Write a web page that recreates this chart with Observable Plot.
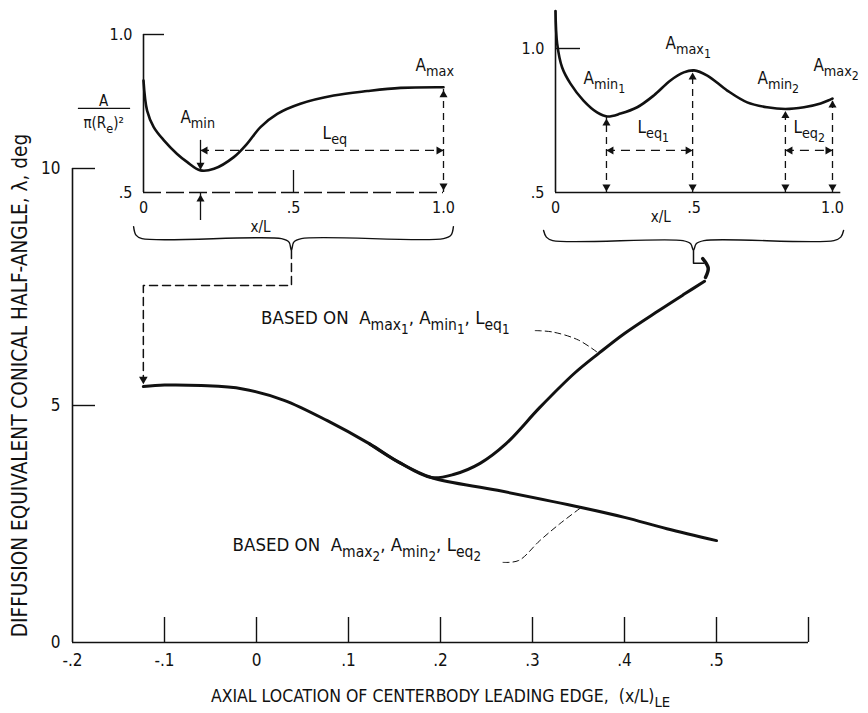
<!DOCTYPE html>
<html><head><meta charset="utf-8">
<script src="https://cdn.jsdelivr.net/npm/d3@7"></script>
<script src="https://cdn.jsdelivr.net/npm/@observablehq/plot@0.6"></script>
<style>
html,body{margin:0;padding:0;background:#fff;}
#wrap{position:relative;width:868px;height:713px;overflow:hidden;}
#wrap svg{position:absolute;left:0;top:0;}
</style></head><body><div id="wrap"></div>
<script>
// ---------------- main chart data ----------------
const xTicks = [-0.2, -0.1, 0, 0.1, 0.2, 0.3, 0.4, 0.5, 0.6];
const xTickLabels = ["-.2", "-.1", "0", ".1", ".2", ".3", ".4", ".5", ""];
const yTicks = [0, 5, 10];
const yTickLabels = ["0", "5", "10"];

// common part of the curve (before the split)
const leftX = [-0.123, -0.10, -0.06, -0.015, 0.03, 0.077, 0.123, 0.155, 0.19];
const leftY = [5.40, 5.43, 5.42, 5.35, 5.11, 4.68, 4.19, 3.80, 3.48];
// branch based on Amax1, Amin1, Leq1
const upperX = [0.19, 0.215, 0.243, 0.271, 0.308, 0.345, 0.372, 0.40, 0.437, 0.465, 0.487];
const upperY = [3.48, 3.55, 3.78, 4.19, 4.96, 5.67, 6.10, 6.52, 7.00, 7.35, 7.62];
// branch based on Amax2, Amin2, Leq2
const lowerX = [0.19, 0.262, 0.353, 0.40, 0.446, 0.50];
const lowerY = [3.48, 3.21, 2.85, 2.64, 2.40, 2.15];

const label1 = "BASED ON  A{max}[1], A{min}[1], L{eq}[1]";
const label2 = "BASED ON  A{max}[2], A{min}[2], L{eq}[2]";
const label1Pos = [0.005, 6.84];
const label2Pos = [-0.026, 2.05];
const leader1X = [0.303, 0.322, 0.35, 0.372];
const leader1Y = [6.58, 6.55, 6.38, 6.10];
const leader2X = [0.268, 0.285, 0.308, 0.33, 0.353];
const leader2Y = [1.69, 1.73, 2.15, 2.51, 2.85];

// connectors from inset braces to the main curve
const linkLX = [0.038, 0.038, -0.123, -0.123];
const linkLY = [8.27, 7.53, 7.53, 5.55];
const linkRX = [0.475, 0.475, 0.486];
const linkRY = [8.27, 8.00, 8.00];
const hookRX = [0.485, 0.491, 0.488];
const hookRY = [8.10, 7.90, 7.70];

const yTitle = "DIFFUSION EQUIVALENT CONICAL HALF-ANGLE, \u03bb, deg";
const xTitle = "AXIAL LOCATION OF CENTERBODY LEADING EDGE,  (x/L){LE}";

// ---------------- left inset data ----------------
const inLX = [0, 0.012, 0.034, 0.068, 0.112, 0.146, 0.19, 0.235, 0.301, 0.345, 0.39, 0.446, 0.523, 0.634, 0.746, 0.857, 1.0];
const inLY = [0.854, 0.759, 0.707, 0.665, 0.622, 0.596, 0.570, 0.575, 0.612, 0.654, 0.707, 0.749, 0.781, 0.807, 0.821, 0.831, 0.833];
const inLAmin = 0.19, inLAminY = 0.572, inLAmax = 1.0, inLAmaxY = 0.833, inLLeqY = 0.633;
const inLLabels = [
  {x: 0.123, y: 0.737, t: "A{min}"},
  {x: 0.597, y: 0.687, t: "L{eq}"},
  {x: 0.907, y: 0.902, t: "A{max}"}
];
const braceLX = [-0.033, -0.025, -0.005, 0.46, 0.485, 0.493, 0.501, 0.526, 1.0, 1.025, 1.033];
const braceLY = [0.392, 0.365, 0.354, 0.354, 0.343, 0.316, 0.343, 0.354, 0.354, 0.365, 0.392];

// ---------------- right inset data ----------------
const inRX = [0, 0.006, 0.024, 0.054, 0.101, 0.150, 0.187, 0.235, 0.295, 0.355, 0.415, 0.463, 0.50, 0.548, 0.62, 0.692, 0.764, 0.83, 0.897, 0.957, 1.0];
const inRY = [1.13, 1.017, 0.934, 0.878, 0.819, 0.778, 0.764, 0.774, 0.796, 0.837, 0.889, 0.917, 0.924, 0.906, 0.854, 0.813, 0.796, 0.79, 0.796, 0.809, 0.826];
const inRStationsX = [0.184, 0.495, 0.83, 1.0];
const inRStationsY = [0.764, 0.924, 0.79, 0.826];
const inRLeqY = 0.646;
const inRLabels = [
  {x: 0.101, y: 0.896, t: "A{min}[1]"},
  {x: 0.397, y: 1.017, t: "A{max}[1]"},
  {x: 0.296, y: 0.726, t: "L{eq}[1]"},
  {x: 0.729, y: 0.896, t: "A{min}[2]"},
  {x: 0.931, y: 0.941, t: "A{max}[2]"},
  {x: 0.859, y: 0.726, t: "L{eq}[2]"}
];
const braceRX = [-0.043, -0.033, -0.01, 0.46, 0.488, 0.498, 0.508, 0.536, 1.005, 1.03, 1.04];
const braceRY = [0.368, 0.345, 0.333, 0.333, 0.322, 0.299, 0.322, 0.333, 0.333, 0.345, 0.368];

const insetXTicks = [0, 0.5, 1.0];
const insetXLabels = ["0", ".5", "1.0"];
const insetYTicks = [0.5, 1.0];
const insetYLabels = [".5", "1.0"];

// ---------------- helpers ----------------
const FONT = '"Liberation Sans Narrow","DejaVu Sans Condensed","Arial Narrow","Liberation Sans",sans-serif';
const W = 868, H = 713;
const INK = "#111";
const pts = (xs, ys) => xs.map((x, i) => ({x, y: ys[i]}));
const fmt = (ticks, labels) => d => labels[ticks.indexOf(d)];

function heads(list, r = 3) {
  const off = 2 * Math.sqrt((Math.PI * r * r) / (3 * Math.sqrt(3)));
  const spec = {up: [0, 0, off], down: [180, 0, -off], left: [-90, off, 0], right: [90, -off, 0]};
  return Object.entries(spec).map(([dir, [rot, dx, dy]]) =>
    Plot.dot(list.filter(d => d.dir === dir), {x: "x", y: "y", symbol: "triangle", r, rotate: rot, dx, dy, fill: INK, stroke: "none"}));
}

function applySubs(svg) {
  svg.querySelectorAll("text").forEach(t => {
    const s = t.textContent;
    if (!/[{\[]/.test(s)) return;
    const fs = parseFloat(getComputedStyle(t).fontSize) || 15;
    t.textContent = "";
    const re = /\{([^}]*)\}|\[([^\]]*)\]|([^{\[]+)/g;
    let m, cur = 0;
    while ((m = re.exec(s))) {
      let lvl, str;
      if (m[1] !== undefined) { lvl = 1; str = m[1]; }
      else if (m[2] !== undefined) { lvl = 2; str = m[2]; }
      else { lvl = 0; str = m[3]; }
      const shift = [0, 0.32 * fs, 0.55 * fs][lvl];
      const ts = document.createElementNS("http://www.w3.org/2000/svg", "tspan");
      ts.setAttribute("dy", (shift - cur).toFixed(2));
      ts.setAttribute("font-size", [fs, 0.84 * fs, 0.72 * fs][lvl].toFixed(2));
      ts.setAttribute("style", "white-space:pre");
      ts.textContent = str;
      t.appendChild(ts);
      cur = shift;
    }
  });
}

const wrap = document.getElementById("wrap");

// ---------------- main plot ----------------
const mM = {l: 72, r: 60, t: 168, b: 71};
const xDom = [-0.2, 0.6], yDom = [0, 10];
const pxX = (xDom[1] - xDom[0]) / (W - mM.l - mM.r);
const pxY = (yDom[1] - yDom[0]) / (H - mM.t - mM.b);

const mainPlot = Plot.plot({
  width: W, height: H,
  marginLeft: mM.l, marginRight: mM.r, marginTop: mM.t, marginBottom: mM.b,
  x: {domain: xDom}, y: {domain: yDom},
  style: {fontFamily: FONT, fontSize: "15px", color: INK, background: "white", overflow: "visible"},
  marks: [
    Plot.ruleY([0], {x1: xDom[0], x2: xDom[1], stroke: INK, strokeWidth: 1.6}),
    Plot.ruleX([xDom[0]], {y1: yDom[0], y2: yDom[1], stroke: INK, strokeWidth: 1.6}),
    Plot.ruleX(xTicks.slice(1), {x: d => d, y1: 0, y2: 25 * pxY, stroke: INK, strokeWidth: 1.4}),
    Plot.ruleY(yTicks.slice(1), {y: d => d, x1: xDom[0], x2: xDom[0] + 23 * pxX, stroke: INK, strokeWidth: 1.4}),
    Plot.axisX({ticks: xTicks, tickSize: 0, tickPadding: 11, tickFormat: fmt(xTicks, xTickLabels), fontSize: 17, label: null}),
    Plot.axisY({ticks: yTicks, tickSize: 0, tickPadding: 12, tickFormat: fmt(yTicks, yTickLabels), fontSize: 17, label: null}),
    Plot.line(pts(leftX.concat(upperX.slice(1)), leftY.concat(upperY.slice(1))), {x: "x", y: "y", curve: "catmull-rom", stroke: INK, strokeWidth: 3}),
    Plot.line(pts(leftX.slice(-3).concat(lowerX.slice(1)), leftY.slice(-3).concat(lowerY.slice(1))), {x: "x", y: "y", curve: "catmull-rom", stroke: INK, strokeWidth: 3}),
    Plot.line(pts(leader1X, leader1Y), {x: "x", y: "y", curve: "catmull-rom", stroke: INK, strokeWidth: 1, strokeDasharray: "6,4"}),
    Plot.line(pts(leader2X, leader2Y), {x: "x", y: "y", curve: "catmull-rom", stroke: INK, strokeWidth: 1, strokeDasharray: "6,4"}),
    Plot.line(pts(linkLX, linkLY), {x: "x", y: "y", stroke: INK, strokeWidth: 1.5, strokeDasharray: "8,5"}),
    ...heads([{x: linkLX[3], y: leftY[0] + 0.05, dir: "down"}], 3.2),
    Plot.line(pts(linkRX, linkRY), {x: "x", y: "y", stroke: INK, strokeWidth: 1.5}),
    Plot.line(pts(hookRX, hookRY), {x: "x", y: "y", curve: "catmull-rom", stroke: INK, strokeWidth: 3.5}),
    Plot.text([label1], {x: label1Pos[0], y: label1Pos[1], textAnchor: "start", fontSize: 18.5}),
    Plot.text([label2], {x: label2Pos[0], y: label2Pos[1], textAnchor: "start", fontSize: 18.5}),
    Plot.text([yTitle], {frameAnchor: "left", textAnchor: "middle", rotate: -90, dx: -52, dy: -20, fontSize: 20.6}),
    Plot.text([xTitle], {frameAnchor: "bottom", textAnchor: "middle", dy: 59, fontSize: 17.5})
  ]
});
wrap.appendChild(mainPlot);
applySubs(mainPlot);

// ---------------- inset plots ----------------
function inset(cfg) {
  const p = Plot.plot({
    width: W, height: H,
    marginLeft: cfg.l, marginRight: cfg.r, marginTop: cfg.t, marginBottom: cfg.b,
    x: {domain: [0, 1]}, y: {domain: [0.5, 1.0]},
    style: {fontFamily: FONT, fontSize: "15px", color: INK, background: "transparent", overflow: "visible"},
    marks: cfg.marks
  });
  p.style.pointerEvents = "none";
  wrap.appendChild(p);
  applySubs(p);
  return p;
}

const lM = {l: 143, r: 868 - 443, t: 34, b: 713 - 192};
const lpxY = 0.5 / (H - lM.t - lM.b), lpxX = 1 / (W - lM.l - lM.r);
inset({
  ...lM,
  marks: [
    Plot.ruleX([0], {y1: 0.5, y2: 1.0, stroke: INK, strokeWidth: 1.6}),
    Plot.ruleY([1.0], {x1: 0, x2: 21 * lpxX, stroke: INK, strokeWidth: 1.4}),
    Plot.ruleY([0.5], {x1: 0, x2: 1.0, stroke: INK, strokeWidth: 1.6, strokeDasharray: "18,5"}),
    Plot.ruleX([0.5], {y1: 0.5, y2: 0.5 + 22 * lpxY, stroke: INK, strokeWidth: 1.3}),
    Plot.axisX({ticks: insetXTicks, tickSize: 0, tickPadding: 9, tickFormat: fmt(insetXTicks, insetXLabels), fontSize: 16, label: null}),
    Plot.axisY({ticks: insetYTicks, tickSize: 0, tickPadding: 11, tickFormat: fmt(insetYTicks, insetYLabels), fontSize: 16, label: null}),
    Plot.line(pts(inLX, inLY), {x: "x", y: "y", curve: "catmull-rom", stroke: INK, strokeWidth: 2.6}),
    Plot.ruleX([inLAmin], {y1: 0.665, y2: inLAminY, stroke: INK, strokeWidth: 1.3}),
    Plot.ruleX([inLAmin], {y1: 0.5 - 28 * lpxY, y2: 0.5, stroke: INK, strokeWidth: 1.3}),
    Plot.ruleY([inLLeqY], {x1: inLAmin, x2: inLAmax, stroke: INK, strokeWidth: 1.3, strokeDasharray: "9,6"}),
    Plot.ruleX([inLAmax], {y1: 0.5, y2: inLAmaxY, stroke: INK, strokeWidth: 1.3, strokeDasharray: "7,5"}),
    ...heads([
      {x: inLAmin, y: inLAminY, dir: "down"},
      {x: inLAmin, y: 0.5 - 2 * lpxY, dir: "up"},
      {x: inLAmin, y: inLLeqY, dir: "left"},
      {x: inLAmax, y: inLLeqY, dir: "right"},
      {x: inLAmax, y: inLAmaxY - 3 * lpxY, dir: "up"},
      {x: inLAmax, y: 0.5 + 2 * lpxY, dir: "down"}
    ]),
    Plot.text(inLLabels, {x: "x", y: "y", text: "t", textAnchor: "start", fontSize: 17}),
    Plot.text(["A"], {x: -0.133, y: 0.79, fontSize: 15}),
    Plot.ruleY([0.766], {x1: -0.217, x2: -0.043, stroke: INK, strokeWidth: 1.2}),
    Plot.text(["\u03c0(R{e})\u00b2"], {x: -0.133, y: 0.718, fontSize: 15}),
    Plot.text(["x/L"], {x: 0.39, y: 0.5, dy: 35, fontSize: 15}),
    Plot.line(pts(braceLX, braceLY), {x: "x", y: "y", curve: "catmull-rom", stroke: INK, strokeWidth: 1.4})
  ]
});

const rM = {l: 555, r: 868 - 832, t: 48, b: 713 - 192};
const rpxY = 0.5 / (H - rM.t - rM.b), rpxX = 1 / (W - rM.l - rM.r);
const stations = inRStationsX.map((x, i) => ({x, top: inRStationsY[i]}));
inset({
  ...rM,
  marks: [
    Plot.ruleX([0], {y1: 0.5, y2: inRY[0], stroke: INK, strokeWidth: 1.6}),
    Plot.ruleY([1.0], {x1: 0, x2: 25 * rpxX, stroke: INK, strokeWidth: 1.4}),
    Plot.ruleY([0.5], {x1: 0, x2: 1.03, stroke: INK, strokeWidth: 1.6}),
    Plot.axisX({ticks: insetXTicks, tickSize: 0, tickPadding: 9, tickFormat: fmt(insetXTicks, insetXLabels), fontSize: 16, label: null}),
    Plot.axisY({ticks: insetYTicks, tickSize: 0, tickPadding: 11, tickFormat: fmt(insetYTicks, insetYLabels), fontSize: 16, label: null}),
    Plot.line(pts(inRX, inRY), {x: "x", y: "y", curve: "catmull-rom", stroke: INK, strokeWidth: 2.6}),
    Plot.ruleX(stations, {x: "x", y1: 0.5, y2: "top", stroke: INK, strokeWidth: 1.3, strokeDasharray: "7,5"}),
    Plot.ruleY([inRLeqY], {x1: inRStationsX[0], x2: inRStationsX[1], stroke: INK, strokeWidth: 1.3, strokeDasharray: "9,6"}),
    Plot.ruleY([inRLeqY], {x1: inRStationsX[2], x2: inRStationsX[3], stroke: INK, strokeWidth: 1.3, strokeDasharray: "9,6"}),
    ...heads([
      ...stations.map(d => ({x: d.x, y: d.top - 2 * rpxY, dir: "up"})),
      ...stations.map(d => ({x: d.x, y: 0.5 + 1 * rpxY, dir: "down"})),
      {x: inRStationsX[0], y: inRLeqY, dir: "left"},
      {x: inRStationsX[1], y: inRLeqY, dir: "right"},
      {x: inRStationsX[2], y: inRLeqY, dir: "left"},
      {x: inRStationsX[3], y: inRLeqY, dir: "right"}
    ]),
    Plot.text(inRLabels, {x: "x", y: "y", text: "t", textAnchor: "start", fontSize: 17}),
    Plot.text(["x/L"], {x: 0.38, y: 0.5, dy: 25, fontSize: 15}),
    Plot.line(pts(braceRX, braceRY), {x: "x", y: "y", curve: "catmull-rom", stroke: INK, strokeWidth: 1.4})
  ]
});
</script></body></html>
